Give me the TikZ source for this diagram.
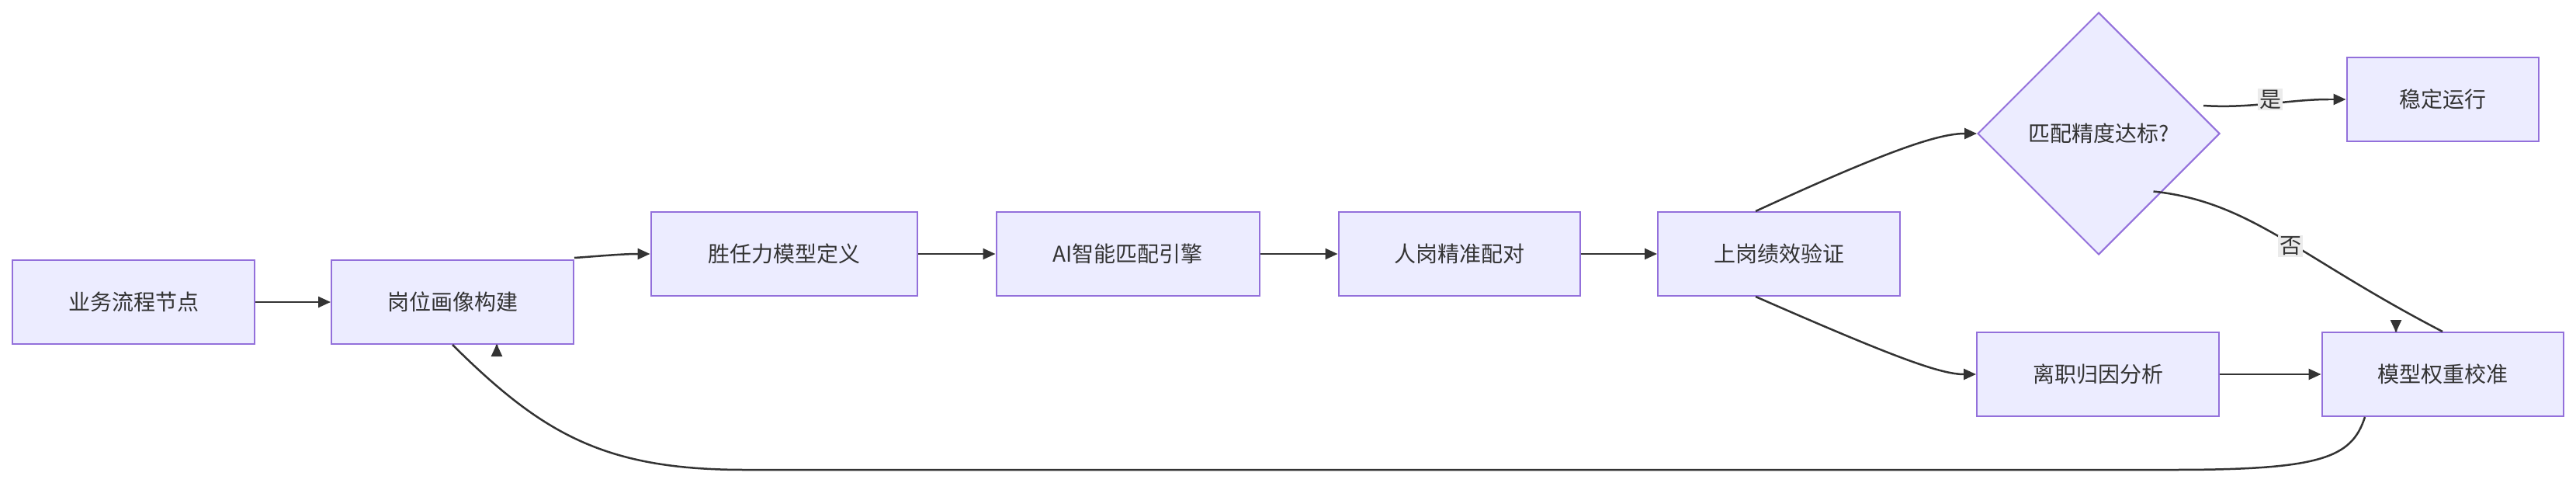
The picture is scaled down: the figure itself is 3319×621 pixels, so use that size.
\documentclass[tikz,border=0pt]{standalone}
\usepackage{fontspec}
\setmainfont{Noto Sans CJK SC}
\usetikzlibrary{shapes.geometric,arrows.meta}
\begin{document}
\begin{tikzpicture}[x=1pt,y=-1pt,
 box/.style={draw=purple!50!blue!60!white,draw={rgb,255:red,147;green,112;blue,219},fill={rgb,255:red,236;green,236;blue,255},line width=2pt,inner sep=0pt,font=\fontsize{28}{30}\selectfont,text=black!80},
 arr/.style={draw=black!80,line width=2.5pt,-{Triangle[length=16pt,width=14pt]}},
 lab/.style={fill=black!8,font=\fontsize{28}{30}\selectfont,inner sep=2pt,text=black!80}]
\useasboundingbox (0,0) rectangle (3319,621);
\node[box,minimum width=312,minimum height=108] (a) at (172,389) {业务流程节点};
\node[box,minimum width=312,minimum height=108] (b) at (583,389) {岗位画像构建};
\node[box,minimum width=343,minimum height=108] (c) at (1010,327) {胜任力模型定义};
\node[box,minimum width=339,minimum height=108] (d) at (1453,327) {AI智能匹配引擎};
\node[box,minimum width=311,minimum height=108] (e) at (1880,327) {人岗精准配对};
\node[box,minimum width=312,minimum height=108] (f) at (2292,327) {上岗绩效验证};
\node[box,diamond,aspect=1,minimum width=312,minimum height=312,inner sep=0pt] (g) at (2704,172) {匹配精度达标?};
\node[box,minimum width=247,minimum height=108] (h) at (3147,128) {稳定运行};
\node[box,minimum width=312,minimum height=108] (i) at (2703,482) {离职归因分析};
\node[box,minimum width=311,minimum height=108] (j) at (3147,482) {模型权重校准};
\draw[arr] (a) -- (b);
\draw[arr] (b.north east) ++(0,-2) .. controls (770,330) and (800,327) .. (c.west);
\draw[arr] (c) -- (d);
\draw[arr] (d) -- (e);
\draw[arr] (e) -- (f);
\draw[arr] (f.north)++(-30,0) coordinate (f1) .. controls (2440,190) and (2500,172) .. (g.west);
\draw[arr] (f.south)++(-30,0) coordinate (f2) .. controls (2440,460) and (2500,482) .. (i.west);
\draw[arr] (i) -- (j);
\draw[draw=black!80,line width=2.5pt] (g.east)++(-22,-36) coordinate (g1) .. controls (2900,140) and (2950,128) .. (3000,128);
\draw[arr] (3000,128) -- (h.west);
\node[lab] at (2925,128) {是};
\draw[arr] (g.south east)++(-8,-4) .. controls (2900,260) and (2960,330) .. (j.north)+(-60,0) -- (3087,428);
\node[lab] at (2951,317) {否};
\draw[arr] (j.south)++(-100,0) .. controls (3030,590) and (2990,605) .. (2800,605) -- (960,605) .. controls (780,605) and (700,560) .. (b.south)+(57,0) -- (640,443);
\end{tikzpicture}
\end{document}
